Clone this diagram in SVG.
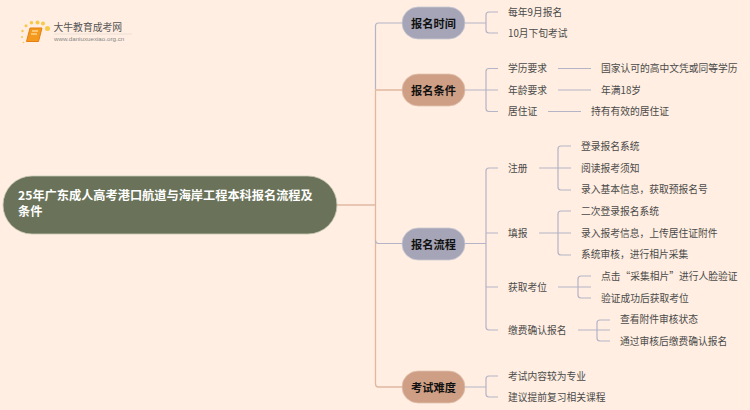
<svg xmlns="http://www.w3.org/2000/svg" width="750" height="410" viewBox="0 0 750 410">
<style>
text{font-family:"Noto Sans CJK SC","Liberation Sans",sans-serif}
.l{font-size:9.75px;fill:#4a4a4a;dominant-baseline:central}
.p{font-size:11.2px;font-weight:700;fill:#111;text-anchor:middle;dominant-baseline:central}
.r{font-size:12.2px;font-weight:700;fill:#fff}
.c{fill:none;stroke:#b4b4c6;stroke-width:1.2}
.o{fill:none;stroke:#e0b8a0;stroke-width:1.3}
.a{fill:#a5a5b7;stroke:#c9c9d2;stroke-width:.8}
.b{fill:#cf9f85;stroke:#e0c2ae;stroke-width:.8}
</style>
<rect width="750" height="410" fill="#ffeee1"/>
<g id="logo">
<g fill="#f7c84a"><circle cx="47.500" cy="28.500" r="2.500"/><circle cx="43" cy="23.500" r="2"/><circle cx="37.500" cy="22.500" r="2"/><circle cx="31.500" cy="22.800" r="1.800"/><circle cx="26" cy="25.700" r="1.500"/><circle cx="22.500" cy="31" r="1.200"/><circle cx="22" cy="37" r="1"/><circle cx="23.500" cy="42.500" r=".8"/></g>
<path d="M30 28h12l-3.500 13.500h-12z" fill="#f39a1e" stroke="#e67e12" stroke-width="1"/>
<path d="M32 31h6M31 34h6" stroke="#fff0c0" stroke-width="1"/>
<text x="53.500" y="31" style="font-size:9.800px;fill:#555">大牛教育成考网</text>
<path d="M54 34h78" stroke="#e6dcd2" stroke-width=".8"/>
<text x="54" y="41" style="font-size:6.200px;fill:#888;font-family:'Liberation Sans',sans-serif">www.daniuxuexiao.org.cn</text>
</g>
<g id="connectors">
<path class="o" d="M337 205H375.500"/>
<path class="c" d="M402 23H378.500Q375.500 23 375.500 26V89.500"/>
<path class="o" d="M402 90H375.500M375.500 89.500V384Q375.500 387 378.500 387H402"/>
<path class="c" d="M402 243.500H378.500Q375.500 243.500 375.500 240.500"/>
<path class="c" d="M465 23H486M498 12H489Q486 12 486 15V30Q486 33 489 33H498"/>
<path class="c" d="M465 90H498M498 68.500H489Q486 68.500 486 71.500V108.500Q486 111.500 489 111.500H498"/>
<path class="c" d="M558 68.500H591M558 90H591M548 111.500H581"/>
<path class="c" d="M465 243.500H486M498 168H489Q486 168 486 171V327Q486 330 489 330H498M486 233H498M486 287H498"/>
<path class="c" d="M465 387H486M498 376H489Q486 376 486 379V394Q486 397 489 397H498"/>
<path class="c" d="M539 168H571M571 146H561Q558 146 558 149V187Q558 190 561 190H571"/>
<path class="c" d="M539 233H571M571 211H561Q558 211 558 214V252Q558 255 561 255H571"/>
<path class="c" d="M558 287H591M591 276H581Q578 276 578 279V295Q578 298 581 298H591"/>
<path class="c" d="M578 330H610M610 320H600Q597 320 597 323V338Q597 341 600 341H610"/>
</g>
<g id="root"><rect x="3" y="176" width="334" height="58" rx="29" fill="#6a7359" stroke="#c9c9b5" stroke-width=".8"/>
<text class="r" x="18" y="199.500">25年广东成人高考港口航道与海岸工程本科报名流程及<tspan x="18" dy="16.500">条件</tspan></text></g>
<g id="n1"><rect class="a" x="402" y="7" width="63" height="32" rx="16"/><text class="p" x="433.500" y="22.500">报名时间</text></g>
<g id="n2"><rect class="b" x="402" y="74" width="63" height="32" rx="16"/><text class="p" x="433.500" y="89.500">报名条件</text></g>
<g id="n3"><rect class="a" x="402" y="228" width="63" height="32" rx="16"/><text class="p" x="433.500" y="243.500">报名流程</text></g>
<g id="n4"><rect class="b" x="402" y="371" width="63" height="32" rx="16"/><text class="p" x="433.500" y="386.500">考试难度</text></g>
<g id="leaves">
<text class="l" x="508" y="11.500">每年9月报名</text>
<text class="l" x="508" y="32.500">10月下旬考试</text>
<text class="l" x="508" y="68">学历要求</text>
<text class="l" x="508" y="89.500">年龄要求</text>
<text class="l" x="508" y="111">居住证</text>
<text class="l" x="601" y="68">国家认可的高中文凭或同等学历</text>
<text class="l" x="601" y="89.500">年满18岁</text>
<text class="l" x="591" y="111">持有有效的居住证</text>
<text class="l" x="508" y="167.500">注册</text>
<text class="l" x="508" y="232.500">填报</text>
<text class="l" x="508" y="286.500">获取考位</text>
<text class="l" x="508" y="329.500">缴费确认报名</text>
<text class="l" x="581" y="145.500">登录报名系统</text>
<text class="l" x="581" y="167.500">阅读报考须知</text>
<text class="l" x="581" y="188.500">录入基本信息，获取预报名号</text>
<text class="l" x="581" y="210.500">二次登录报名系统</text>
<text class="l" x="581" y="232.500">录入报考信息，上传居住证附件</text>
<text class="l" x="581" y="254">系统审核，进行相片采集</text>
<text class="l" x="601" y="275.500">点击“采集相片”进行人脸验证</text>
<text class="l" x="601" y="297.500">验证成功后获取考位</text>
<text class="l" x="620" y="319">查看附件审核状态</text>
<text class="l" x="620" y="340.500">通过审核后缴费确认报名</text>
<text class="l" x="508" y="375.500">考试内容较为专业</text>
<text class="l" x="508" y="396.500">建议提前复习相关课程</text>
</g>
</svg>
